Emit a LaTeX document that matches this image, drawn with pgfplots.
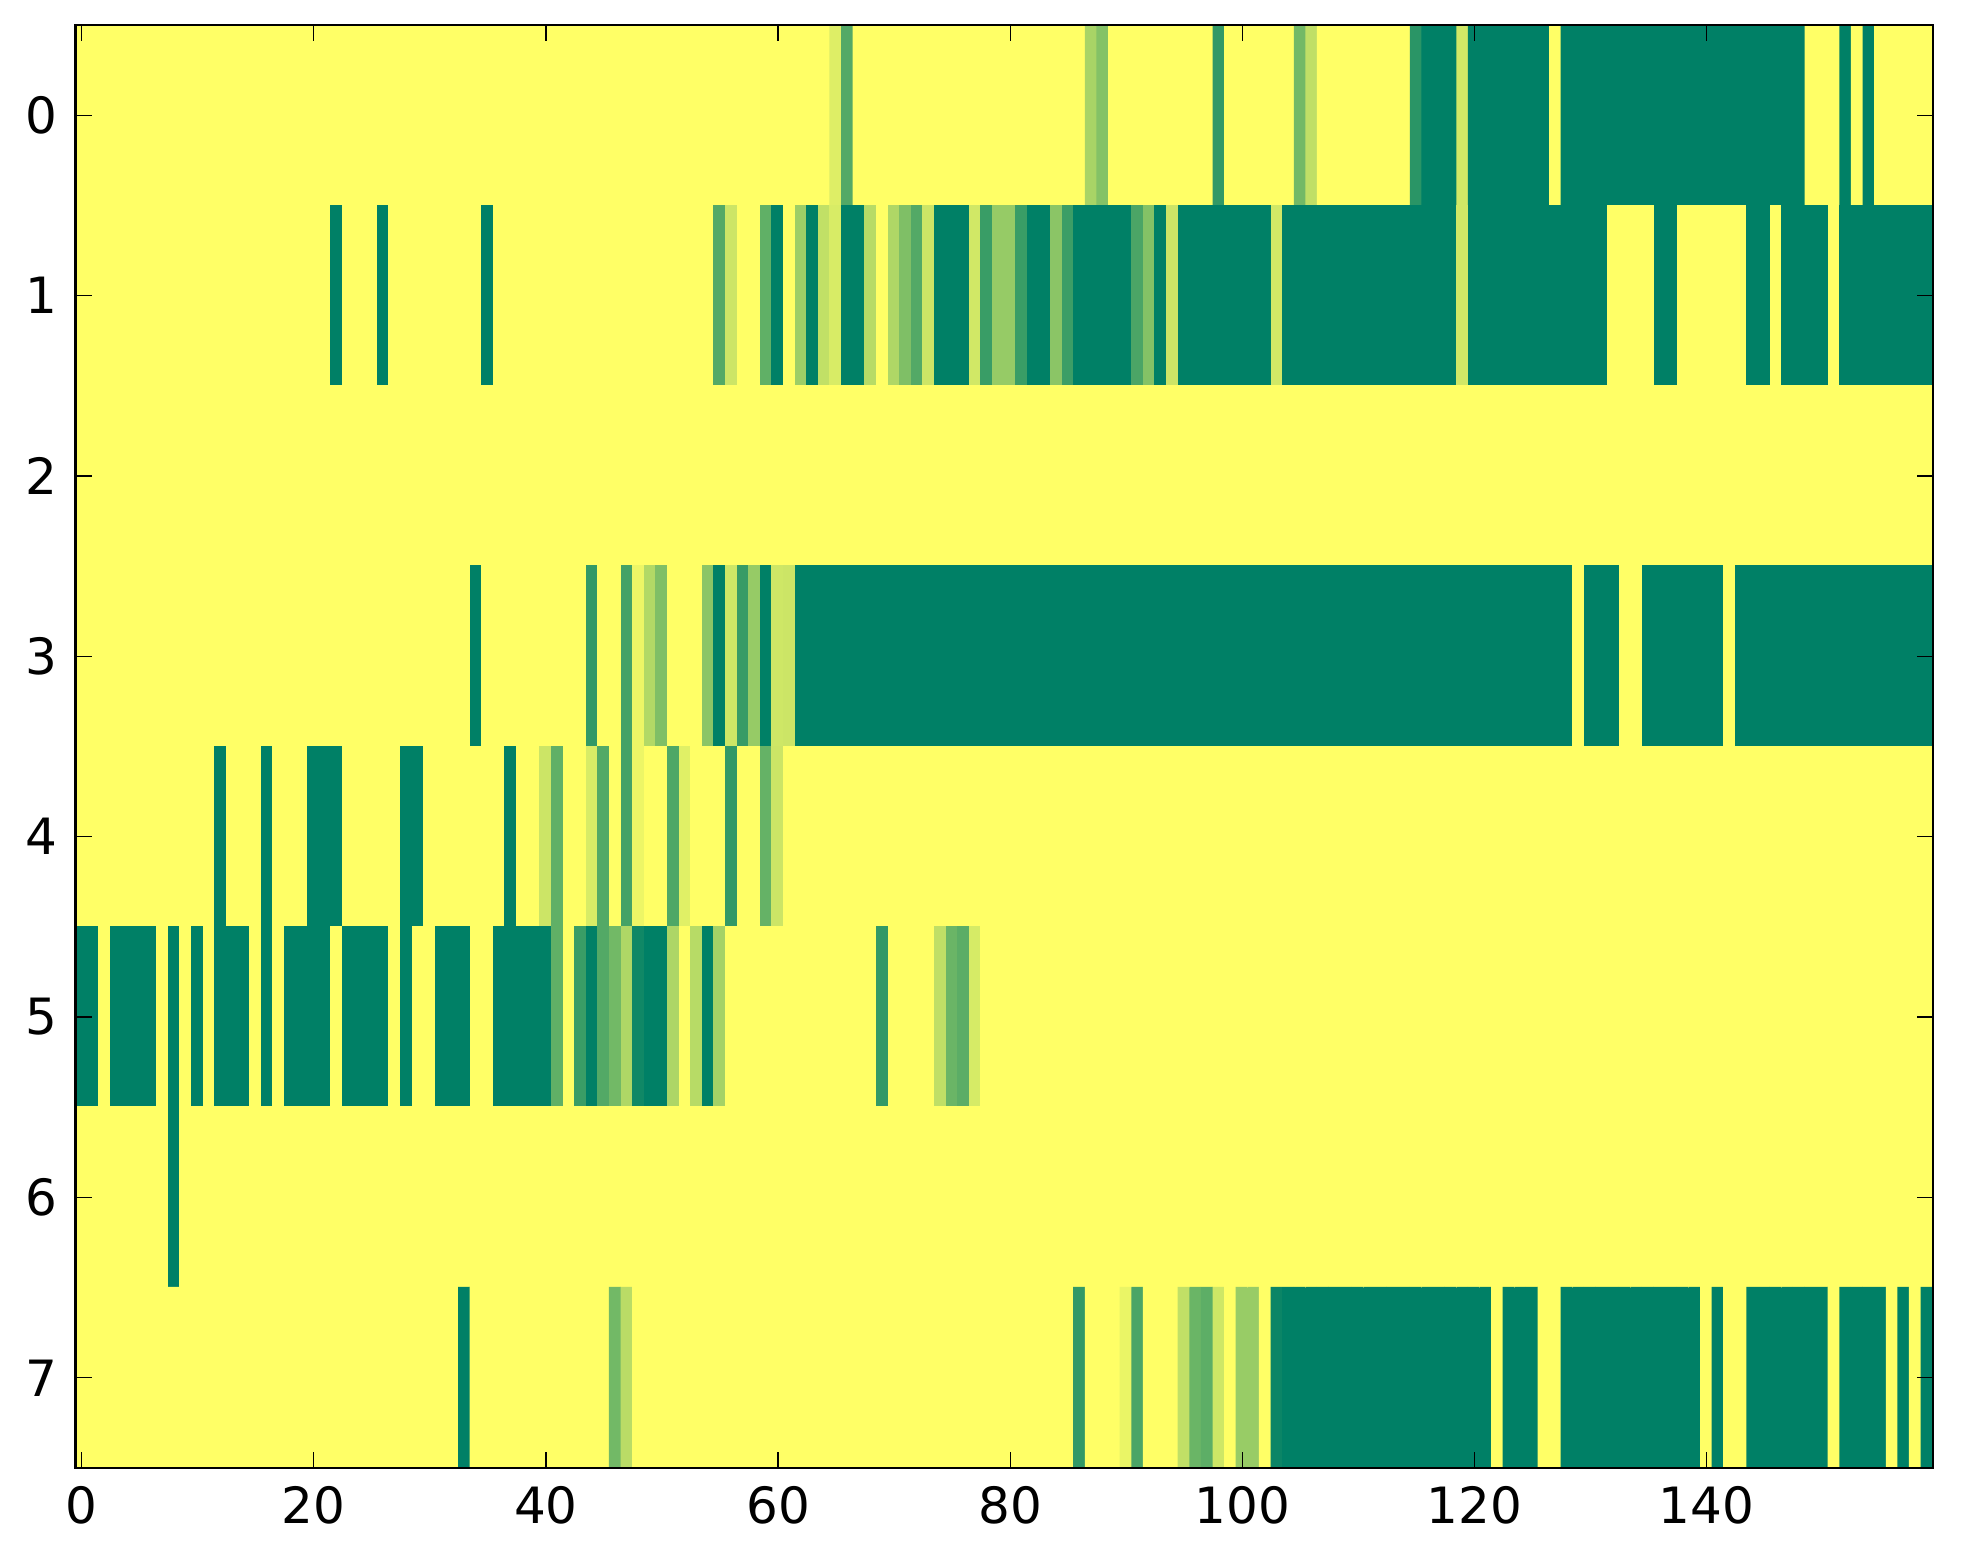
\documentclass[border=0pt]{standalone}
\usepackage{fontspec}
\setmainfont{DejaVu Sans}
\usepackage{pgfplots}
\pgfplotsset{compat=1.18}
\begin{document}
\begin{tikzpicture}
\begin{axis}[
  scale only axis, width=445.7pt, height=346.3pt,
  xmin=-0.5, xmax=159.5, ymin=-0.5, ymax=7.5,
  y dir=reverse,
  xtick={0,20,...,140}, ytick={0,1,...,7},
  tick align=inside, tick pos=both,
  major tick length=3.84pt,
  every tick/.style={black, line width=0.32pt},
  axis line style={line width=0.65pt},
  axis on top,
  colormap={summerr}{rgb255=(255,255,102) rgb255=(0,128,102)},
  point meta min=0, point meta max=1,
  tick label style={font=\fontsize{12}{14}\selectfont},
  /pgf/number format/assume math mode=true,
  xticklabel style={yshift=-1pt},
  yticklabel style={xshift=-0.8pt},
  enlargelimits=false,
]
\addplot[matrix plot*, mesh/cols=160, mesh/rows=8, point meta=explicit] table[meta=z, row sep=\\] {
x y z\\
0 0 0\\1 0 0\\2 0 0\\3 0 0\\4 0 0\\5 0 0\\6 0 0\\7 0 0\\8 0 0\\9 0 0\\
10 0 0\\11 0 0\\12 0 0\\13 0 0\\14 0 0\\15 0 0\\16 0 0\\17 0 0\\18 0 0\\19 0 0\\
20 0 0\\21 0 0\\22 0 0\\23 0 0\\24 0 0\\25 0 0\\26 0 0\\27 0 0\\28 0 0\\29 0 0\\
30 0 0\\31 0 0\\32 0 0\\33 0 0\\34 0 0\\35 0 0\\36 0 0\\37 0 0\\38 0 0\\39 0 0\\
40 0 0\\41 0 0\\42 0 0\\43 0 0\\44 0 0\\45 0 0\\46 0 0\\47 0 0\\48 0 0\\49 0 0\\
50 0 0\\51 0 0\\52 0 0\\53 0 0\\54 0 0\\55 0 0\\56 0 0\\57 0 0\\58 0 0\\59 0 0\\
60 0 0\\61 0 0\\62 0 0\\63 0 0\\64 0 0\\65 0 .13\\66 0 .67\\67 0 0\\68 0 0\\69 0 0\\
70 0 0\\71 0 0\\72 0 0\\73 0 0\\74 0 0\\75 0 0\\76 0 0\\77 0 0\\78 0 0\\79 0 0\\
80 0 0\\81 0 0\\82 0 0\\83 0 0\\84 0 0\\85 0 0\\86 0 0\\87 0 .34\\88 0 .48\\89 0 0\\
90 0 0\\91 0 0\\92 0 0\\93 0 0\\94 0 0\\95 0 0\\96 0 0\\97 0 0\\98 0 .8\\99 0 0\\
100 0 0\\101 0 0\\102 0 0\\103 0 0\\104 0 0\\105 0 .55\\106 0 .25\\107 0 0\\108 0 0\\109 0 0\\
110 0 0\\111 0 0\\112 0 0\\113 0 0\\114 0 0\\115 0 .83\\116 0 1\\117 0 1\\118 0 1\\119 0 .18\\
120 0 1\\121 0 1\\122 0 1\\123 0 1\\124 0 1\\125 0 1\\126 0 1\\127 0 0\\128 0 1\\129 0 1\\
130 0 1\\131 0 1\\132 0 1\\133 0 1\\134 0 1\\135 0 1\\136 0 1\\137 0 1\\138 0 1\\139 0 1\\
140 0 1\\141 0 1\\142 0 1\\143 0 1\\144 0 1\\145 0 1\\146 0 1\\147 0 1\\148 0 1\\149 0 0\\
150 0 0\\151 0 0\\152 0 1\\153 0 0\\154 0 1\\155 0 0\\156 0 0\\157 0 0\\158 0 0\\159 0 0\\
0 1 0\\1 1 0\\2 1 0\\3 1 0\\4 1 0\\5 1 0\\6 1 0\\7 1 0\\8 1 0\\9 1 0\\
10 1 0\\11 1 0\\12 1 0\\13 1 0\\14 1 0\\15 1 0\\16 1 0\\17 1 0\\18 1 0\\19 1 0\\
20 1 0\\21 1 0\\22 1 1\\23 1 0\\24 1 0\\25 1 0\\26 1 1\\27 1 0\\28 1 0\\29 1 0\\
30 1 0\\31 1 0\\32 1 0\\33 1 0\\34 1 0\\35 1 1\\36 1 0\\37 1 0\\38 1 0\\39 1 0\\
40 1 0\\41 1 0\\42 1 0\\43 1 0\\44 1 0\\45 1 0\\46 1 0\\47 1 0\\48 1 0\\49 1 0\\
50 1 0\\51 1 0\\52 1 0\\53 1 0\\54 1 0\\55 1 .67\\56 1 .2\\57 1 0\\58 1 0\\59 1 .62\\
60 1 1\\61 1 0\\62 1 .38\\63 1 1\\64 1 .24\\65 1 .15\\66 1 1\\67 1 1\\68 1 .28\\69 1 0\\
70 1 .31\\71 1 .5\\72 1 .67\\73 1 .2\\74 1 1\\75 1 1\\76 1 1\\77 1 .18\\78 1 .77\\79 1 .41\\
80 1 .41\\81 1 .77\\82 1 1\\83 1 1\\84 1 .45\\85 1 .76\\86 1 1\\87 1 1\\88 1 1\\89 1 1\\
90 1 1\\91 1 .7\\92 1 .48\\93 1 1\\94 1 .2\\95 1 1\\96 1 1\\97 1 1\\98 1 1\\99 1 1\\
100 1 1\\101 1 1\\102 1 1\\103 1 .18\\104 1 1\\105 1 1\\106 1 1\\107 1 1\\108 1 1\\109 1 1\\
110 1 1\\111 1 1\\112 1 1\\113 1 1\\114 1 1\\115 1 1\\116 1 1\\117 1 1\\118 1 1\\119 1 .18\\
120 1 1\\121 1 1\\122 1 1\\123 1 1\\124 1 1\\125 1 1\\126 1 1\\127 1 1\\128 1 1\\129 1 1\\
130 1 1\\131 1 1\\132 1 0\\133 1 0\\134 1 0\\135 1 0\\136 1 1\\137 1 1\\138 1 0\\139 1 0\\
140 1 0\\141 1 0\\142 1 0\\143 1 0\\144 1 1\\145 1 1\\146 1 0\\147 1 1\\148 1 1\\149 1 1\\
150 1 1\\151 1 0\\152 1 1\\153 1 1\\154 1 1\\155 1 1\\156 1 1\\157 1 1\\158 1 1\\159 1 1\\
0 2 0\\1 2 0\\2 2 0\\3 2 0\\4 2 0\\5 2 0\\6 2 0\\7 2 0\\8 2 0\\9 2 0\\
10 2 0\\11 2 0\\12 2 0\\13 2 0\\14 2 0\\15 2 0\\16 2 0\\17 2 0\\18 2 0\\19 2 0\\
20 2 0\\21 2 0\\22 2 0\\23 2 0\\24 2 0\\25 2 0\\26 2 0\\27 2 0\\28 2 0\\29 2 0\\
30 2 0\\31 2 0\\32 2 0\\33 2 0\\34 2 0\\35 2 0\\36 2 0\\37 2 0\\38 2 0\\39 2 0\\
40 2 0\\41 2 0\\42 2 0\\43 2 0\\44 2 0\\45 2 0\\46 2 0\\47 2 0\\48 2 0\\49 2 0\\
50 2 0\\51 2 0\\52 2 0\\53 2 0\\54 2 0\\55 2 0\\56 2 0\\57 2 0\\58 2 0\\59 2 0\\
60 2 0\\61 2 0\\62 2 0\\63 2 0\\64 2 0\\65 2 0\\66 2 0\\67 2 0\\68 2 0\\69 2 0\\
70 2 0\\71 2 0\\72 2 0\\73 2 0\\74 2 0\\75 2 0\\76 2 0\\77 2 0\\78 2 0\\79 2 0\\
80 2 0\\81 2 0\\82 2 0\\83 2 0\\84 2 0\\85 2 0\\86 2 0\\87 2 0\\88 2 0\\89 2 0\\
90 2 0\\91 2 0\\92 2 0\\93 2 0\\94 2 0\\95 2 0\\96 2 0\\97 2 0\\98 2 0\\99 2 0\\
100 2 0\\101 2 0\\102 2 0\\103 2 0\\104 2 0\\105 2 0\\106 2 0\\107 2 0\\108 2 0\\109 2 0\\
110 2 0\\111 2 0\\112 2 0\\113 2 0\\114 2 0\\115 2 0\\116 2 0\\117 2 0\\118 2 0\\119 2 0\\
120 2 0\\121 2 0\\122 2 0\\123 2 0\\124 2 0\\125 2 0\\126 2 0\\127 2 0\\128 2 0\\129 2 0\\
130 2 0\\131 2 0\\132 2 0\\133 2 0\\134 2 0\\135 2 0\\136 2 0\\137 2 0\\138 2 0\\139 2 0\\
140 2 0\\141 2 0\\142 2 0\\143 2 0\\144 2 0\\145 2 0\\146 2 0\\147 2 0\\148 2 0\\149 2 0\\
150 2 0\\151 2 0\\152 2 0\\153 2 0\\154 2 0\\155 2 0\\156 2 0\\157 2 0\\158 2 0\\159 2 0\\
0 3 0\\1 3 0\\2 3 0\\3 3 0\\4 3 0\\5 3 0\\6 3 0\\7 3 0\\8 3 0\\9 3 0\\
10 3 0\\11 3 0\\12 3 0\\13 3 0\\14 3 0\\15 3 0\\16 3 0\\17 3 0\\18 3 0\\19 3 0\\
20 3 0\\21 3 0\\22 3 0\\23 3 0\\24 3 0\\25 3 0\\26 3 0\\27 3 0\\28 3 0\\29 3 0\\
30 3 0\\31 3 0\\32 3 0\\33 3 0\\34 3 1\\35 3 0\\36 3 0\\37 3 0\\38 3 0\\39 3 0\\
40 3 0\\41 3 0\\42 3 0\\43 3 0\\44 3 .8\\45 3 0\\46 3 0\\47 3 .73\\48 3 .07\\49 3 .3\\
50 3 .5\\51 3 0\\52 3 0\\53 3 0\\54 3 .45\\55 3 1\\56 3 .19\\57 3 .78\\58 3 .41\\59 3 1\\
60 3 .19\\61 3 .2\\62 3 1\\63 3 1\\64 3 1\\65 3 1\\66 3 1\\67 3 1\\68 3 1\\69 3 1\\
70 3 1\\71 3 1\\72 3 1\\73 3 1\\74 3 1\\75 3 1\\76 3 1\\77 3 1\\78 3 1\\79 3 1\\
80 3 1\\81 3 1\\82 3 1\\83 3 1\\84 3 1\\85 3 1\\86 3 1\\87 3 1\\88 3 1\\89 3 1\\
90 3 1\\91 3 1\\92 3 1\\93 3 1\\94 3 1\\95 3 1\\96 3 1\\97 3 1\\98 3 1\\99 3 1\\
100 3 1\\101 3 1\\102 3 1\\103 3 1\\104 3 1\\105 3 1\\106 3 1\\107 3 1\\108 3 1\\109 3 1\\
110 3 1\\111 3 1\\112 3 1\\113 3 1\\114 3 1\\115 3 1\\116 3 1\\117 3 1\\118 3 1\\119 3 1\\
120 3 1\\121 3 1\\122 3 1\\123 3 1\\124 3 1\\125 3 1\\126 3 1\\127 3 1\\128 3 1\\129 3 0\\
130 3 1\\131 3 1\\132 3 1\\133 3 0\\134 3 0\\135 3 1\\136 3 1\\137 3 1\\138 3 1\\139 3 1\\
140 3 1\\141 3 1\\142 3 0\\143 3 1\\144 3 1\\145 3 1\\146 3 1\\147 3 1\\148 3 1\\149 3 1\\
150 3 1\\151 3 1\\152 3 1\\153 3 1\\154 3 1\\155 3 1\\156 3 1\\157 3 1\\158 3 1\\159 3 1\\
0 4 0\\1 4 0\\2 4 0\\3 4 0\\4 4 0\\5 4 0\\6 4 0\\7 4 0\\8 4 0\\9 4 0\\
10 4 0\\11 4 0\\12 4 1\\13 4 0\\14 4 0\\15 4 0\\16 4 1\\17 4 0\\18 4 0\\19 4 0\\
20 4 1\\21 4 1\\22 4 1\\23 4 0\\24 4 0\\25 4 0\\26 4 0\\27 4 0\\28 4 1\\29 4 1\\
30 4 0\\31 4 0\\32 4 0\\33 4 0\\34 4 0\\35 4 0\\36 4 0\\37 4 1\\38 4 0\\39 4 0\\
40 4 .2\\41 4 .62\\42 4 0\\43 4 0\\44 4 .15\\45 4 .67\\46 4 0\\47 4 .73\\48 4 .07\\49 4 0\\
50 4 0\\51 4 .69\\52 4 .12\\53 4 0\\54 4 0\\55 4 0\\56 4 .8\\57 4 0\\58 4 0\\59 4 .6\\
60 4 .2\\61 4 0\\62 4 0\\63 4 0\\64 4 0\\65 4 0\\66 4 0\\67 4 0\\68 4 0\\69 4 0\\
70 4 0\\71 4 0\\72 4 0\\73 4 0\\74 4 0\\75 4 0\\76 4 0\\77 4 0\\78 4 0\\79 4 0\\
80 4 0\\81 4 0\\82 4 0\\83 4 0\\84 4 0\\85 4 0\\86 4 0\\87 4 0\\88 4 0\\89 4 0\\
90 4 0\\91 4 0\\92 4 0\\93 4 0\\94 4 0\\95 4 0\\96 4 0\\97 4 0\\98 4 0\\99 4 0\\
100 4 0\\101 4 0\\102 4 0\\103 4 0\\104 4 0\\105 4 0\\106 4 0\\107 4 0\\108 4 0\\109 4 0\\
110 4 0\\111 4 0\\112 4 0\\113 4 0\\114 4 0\\115 4 0\\116 4 0\\117 4 0\\118 4 0\\119 4 0\\
120 4 0\\121 4 0\\122 4 0\\123 4 0\\124 4 0\\125 4 0\\126 4 0\\127 4 0\\128 4 0\\129 4 0\\
130 4 0\\131 4 0\\132 4 0\\133 4 0\\134 4 0\\135 4 0\\136 4 0\\137 4 0\\138 4 0\\139 4 0\\
140 4 0\\141 4 0\\142 4 0\\143 4 0\\144 4 0\\145 4 0\\146 4 0\\147 4 0\\148 4 0\\149 4 0\\
150 4 0\\151 4 0\\152 4 0\\153 4 0\\154 4 0\\155 4 0\\156 4 0\\157 4 0\\158 4 0\\159 4 0\\
0 5 1\\1 5 1\\2 5 0\\3 5 1\\4 5 1\\5 5 1\\6 5 1\\7 5 0\\8 5 1\\9 5 0\\
10 5 1\\11 5 0\\12 5 1\\13 5 1\\14 5 1\\15 5 0\\16 5 1\\17 5 0\\18 5 1\\19 5 1\\
20 5 1\\21 5 1\\22 5 0\\23 5 1\\24 5 1\\25 5 1\\26 5 1\\27 5 0\\28 5 1\\29 5 0\\
30 5 0\\31 5 1\\32 5 1\\33 5 1\\34 5 0\\35 5 0\\36 5 1\\37 5 1\\38 5 1\\39 5 1\\
40 5 1\\41 5 .62\\42 5 0\\43 5 .77\\44 5 1\\45 5 .67\\46 5 .55\\47 5 .31\\48 5 .93\\49 5 1\\
50 5 1\\51 5 .32\\52 5 0\\53 5 .28\\54 5 1\\55 5 .35\\56 5 0\\57 5 0\\58 5 0\\59 5 0\\
60 5 0\\61 5 0\\62 5 0\\63 5 0\\64 5 0\\65 5 0\\66 5 0\\67 5 0\\68 5 0\\69 5 .8\\
70 5 0\\71 5 0\\72 5 0\\73 5 0\\74 5 .25\\75 5 .58\\76 5 .64\\77 5 .16\\78 5 0\\79 5 0\\
80 5 0\\81 5 0\\82 5 0\\83 5 0\\84 5 0\\85 5 0\\86 5 0\\87 5 0\\88 5 0\\89 5 0\\
90 5 0\\91 5 0\\92 5 0\\93 5 0\\94 5 0\\95 5 0\\96 5 0\\97 5 0\\98 5 0\\99 5 0\\
100 5 0\\101 5 0\\102 5 0\\103 5 0\\104 5 0\\105 5 0\\106 5 0\\107 5 0\\108 5 0\\109 5 0\\
110 5 0\\111 5 0\\112 5 0\\113 5 0\\114 5 0\\115 5 0\\116 5 0\\117 5 0\\118 5 0\\119 5 0\\
120 5 0\\121 5 0\\122 5 0\\123 5 0\\124 5 0\\125 5 0\\126 5 0\\127 5 0\\128 5 0\\129 5 0\\
130 5 0\\131 5 0\\132 5 0\\133 5 0\\134 5 0\\135 5 0\\136 5 0\\137 5 0\\138 5 0\\139 5 0\\
140 5 0\\141 5 0\\142 5 0\\143 5 0\\144 5 0\\145 5 0\\146 5 0\\147 5 0\\148 5 0\\149 5 0\\
150 5 0\\151 5 0\\152 5 0\\153 5 0\\154 5 0\\155 5 0\\156 5 0\\157 5 0\\158 5 0\\159 5 0\\
0 6 0\\1 6 0\\2 6 0\\3 6 0\\4 6 0\\5 6 0\\6 6 0\\7 6 0\\8 6 1\\9 6 0\\
10 6 0\\11 6 0\\12 6 0\\13 6 0\\14 6 0\\15 6 0\\16 6 0\\17 6 0\\18 6 0\\19 6 0\\
20 6 0\\21 6 0\\22 6 0\\23 6 0\\24 6 0\\25 6 0\\26 6 0\\27 6 0\\28 6 0\\29 6 0\\
30 6 0\\31 6 0\\32 6 0\\33 6 0\\34 6 0\\35 6 0\\36 6 0\\37 6 0\\38 6 0\\39 6 0\\
40 6 0\\41 6 0\\42 6 0\\43 6 0\\44 6 0\\45 6 0\\46 6 0\\47 6 0\\48 6 0\\49 6 0\\
50 6 0\\51 6 0\\52 6 0\\53 6 0\\54 6 0\\55 6 0\\56 6 0\\57 6 0\\58 6 0\\59 6 0\\
60 6 0\\61 6 0\\62 6 0\\63 6 0\\64 6 0\\65 6 0\\66 6 0\\67 6 0\\68 6 0\\69 6 0\\
70 6 0\\71 6 0\\72 6 0\\73 6 0\\74 6 0\\75 6 0\\76 6 0\\77 6 0\\78 6 0\\79 6 0\\
80 6 0\\81 6 0\\82 6 0\\83 6 0\\84 6 0\\85 6 0\\86 6 0\\87 6 0\\88 6 0\\89 6 0\\
90 6 0\\91 6 0\\92 6 0\\93 6 0\\94 6 0\\95 6 0\\96 6 0\\97 6 0\\98 6 0\\99 6 0\\
100 6 0\\101 6 0\\102 6 0\\103 6 0\\104 6 0\\105 6 0\\106 6 0\\107 6 0\\108 6 0\\109 6 0\\
110 6 0\\111 6 0\\112 6 0\\113 6 0\\114 6 0\\115 6 0\\116 6 0\\117 6 0\\118 6 0\\119 6 0\\
120 6 0\\121 6 0\\122 6 0\\123 6 0\\124 6 0\\125 6 0\\126 6 0\\127 6 0\\128 6 0\\129 6 0\\
130 6 0\\131 6 0\\132 6 0\\133 6 0\\134 6 0\\135 6 0\\136 6 0\\137 6 0\\138 6 0\\139 6 0\\
140 6 0\\141 6 0\\142 6 0\\143 6 0\\144 6 0\\145 6 0\\146 6 0\\147 6 0\\148 6 0\\149 6 0\\
150 6 0\\151 6 0\\152 6 0\\153 6 0\\154 6 0\\155 6 0\\156 6 0\\157 6 0\\158 6 0\\159 6 0\\
0 7 0\\1 7 0\\2 7 0\\3 7 0\\4 7 0\\5 7 0\\6 7 0\\7 7 0\\8 7 0\\9 7 0\\
10 7 0\\11 7 0\\12 7 0\\13 7 0\\14 7 0\\15 7 0\\16 7 0\\17 7 0\\18 7 0\\19 7 0\\
20 7 0\\21 7 0\\22 7 0\\23 7 0\\24 7 0\\25 7 0\\26 7 0\\27 7 0\\28 7 0\\29 7 0\\
30 7 0\\31 7 0\\32 7 0\\33 7 1\\34 7 0\\35 7 0\\36 7 0\\37 7 0\\38 7 0\\39 7 0\\
40 7 0\\41 7 0\\42 7 0\\43 7 0\\44 7 0\\45 7 0\\46 7 .55\\47 7 .27\\48 7 0\\49 7 0\\
50 7 0\\51 7 0\\52 7 0\\53 7 0\\54 7 0\\55 7 0\\56 7 0\\57 7 0\\58 7 0\\59 7 0\\
60 7 0\\61 7 0\\62 7 0\\63 7 0\\64 7 0\\65 7 0\\66 7 0\\67 7 0\\68 7 0\\69 7 0\\
70 7 0\\71 7 0\\72 7 0\\73 7 0\\74 7 0\\75 7 0\\76 7 0\\77 7 0\\78 7 0\\79 7 0\\
80 7 0\\81 7 0\\82 7 0\\83 7 0\\84 7 0\\85 7 0\\86 7 .8\\87 7 0\\88 7 0\\89 7 0\\
90 7 .08\\91 7 .7\\92 7 0\\93 7 0\\94 7 0\\95 7 .24\\96 7 .58\\97 7 .63\\98 7 .19\\99 7 0\\
100 7 .4\\101 7 .4\\102 7 0\\103 7 .95\\104 7 1\\105 7 1\\106 7 1\\107 7 1\\108 7 1\\109 7 1\\
110 7 1\\111 7 1\\112 7 1\\113 7 1\\114 7 1\\115 7 1\\116 7 1\\117 7 1\\118 7 1\\119 7 1\\
120 7 1\\121 7 1\\122 7 0\\123 7 1\\124 7 1\\125 7 1\\126 7 0\\127 7 0\\128 7 1\\129 7 1\\
130 7 1\\131 7 1\\132 7 1\\133 7 1\\134 7 1\\135 7 1\\136 7 1\\137 7 1\\138 7 1\\139 7 1\\
140 7 0\\141 7 1\\142 7 0\\143 7 0\\144 7 1\\145 7 1\\146 7 1\\147 7 1\\148 7 1\\149 7 1\\
150 7 1\\151 7 0\\152 7 1\\153 7 1\\154 7 1\\155 7 1\\156 7 0\\157 7 1\\158 7 0\\159 7 1\\
};
\coordinate (bl) at (rel axis cs:0,0);
\coordinate (tr) at (rel axis cs:1,1);
\end{axis}
\path ([xshift=-18.2pt,yshift=-23pt]bl) rectangle ([xshift=7.2pt,yshift=6pt]tr);
\end{tikzpicture}
\end{document}
